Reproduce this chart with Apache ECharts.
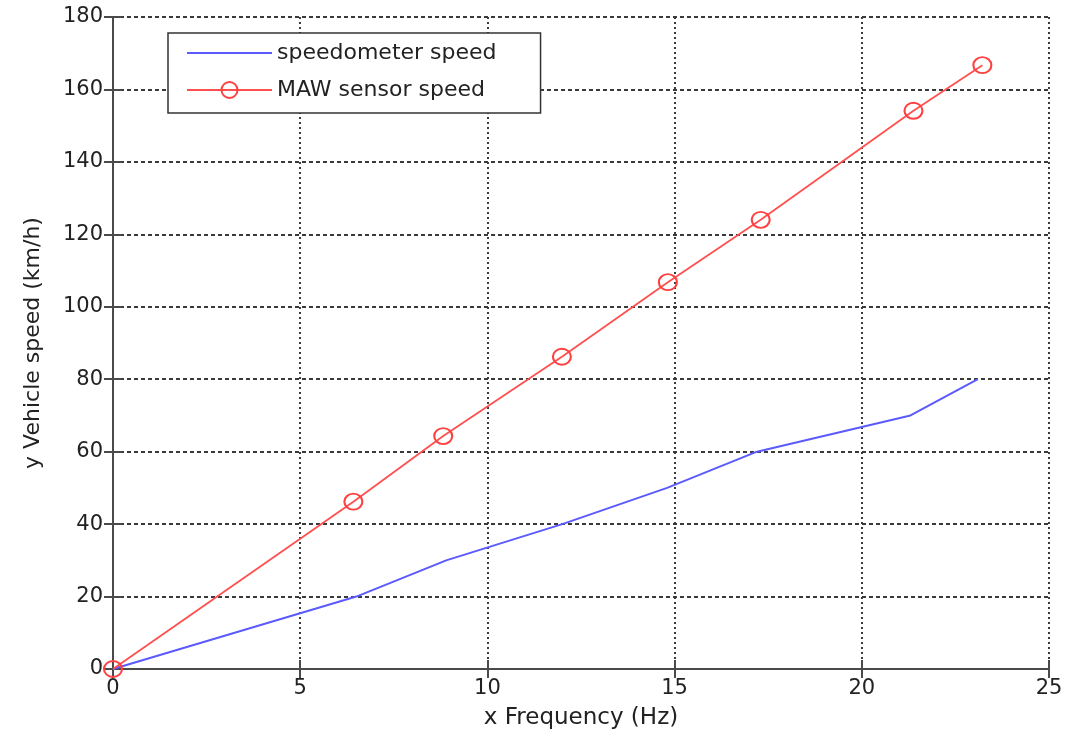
<!DOCTYPE html>
<html>
<head>
<meta charset="utf-8">
<script src="https://cdn.jsdelivr.net/npm/echarts@6/dist/echarts.min.js"></script>
<style>
html,body{margin:0;padding:0;background:#fff;}
#chart{width:1068px;height:736px;}
</style>
</head>
<body>
<div id="chart"></div>
<script>
// Data
const speedoFreq = [0, 6.5, 8.9, 12.0, 14.8, 17.2, 21.3, 23.1];
const speedoSpeed = [0, 20, 30, 40, 50, 60, 70, 80];
const mawFreq = [0, 6.42, 8.82, 11.99, 14.82, 17.30, 21.38, 23.22];
const mawSpeed = [0, 46.2, 64.3, 86.2, 106.8, 124.0, 154.1, 166.7];
const seriesNames = ['speedometer speed', 'MAW sensor speed'];
const xAxisName = 'x Frequency (Hz)';
const yAxisName = 'y Vehicle speed (km/h)';

const FONT = 'DejaVu Sans';
const frameLine = { show: true, lineStyle: { color: '#4a4a4a', width: 2 } };
const inTick = { show: true, inside: true, length: 9, lineStyle: { color: '#4a4a4a', width: 2 } };

const chart = echarts.init(document.getElementById('chart'), null, { renderer: 'canvas' });
chart.setOption({
  animation: false,
  backgroundColor: '#fff',
  grid: { left: 113, right: 19, top: 17, bottom: 67, containLabel: false },
  legend: {
    orient: 'vertical',
    left: 168, top: 33,
    padding: [9, 44, 12, 18],
    itemGap: 15,
    itemWidth: 85,
    itemHeight: 20,
    backgroundColor: '#fff',
    borderColor: '#333',
    borderWidth: 1.5,
    borderRadius: 0,
    textStyle: { fontFamily: FONT, fontSize: 22, color: '#222', lineHeight: 22 },
    data: [
      { name: seriesNames[0], itemStyle: { color: 'rgba(0,0,0,0)', borderColor: 'rgba(0,0,0,0)', borderWidth: 0, opacity: 0 } },
      { name: seriesNames[1] }
    ]
  },
  xAxis: [
    {
      type: 'value', position: 'bottom', min: 0, max: 25, interval: 5,
      name: xAxisName, nameLocation: 'middle', nameGap: 38,
      nameTextStyle: { fontFamily: FONT, fontSize: 23, color: '#222' },
      axisLine: frameLine, axisTick: inTick,
      axisLabel: { fontFamily: FONT, fontSize: 21, color: '#222', margin: 9 },
      splitLine: { show: true, lineStyle: { color: '#3a3a3a', width: 2, type: [2, 3] } }
    },
    {
      type: 'value', position: 'top', min: 0, max: 25, interval: 5,
      axisLine: frameLine, axisTick: inTick,
      axisLabel: { show: false }, splitLine: { show: false }
    }
  ],
  yAxis: [
    {
      type: 'value', position: 'left', min: 0, max: 180, interval: 20,
      name: yAxisName, nameLocation: 'middle', nameGap: 69,
      nameTextStyle: { fontFamily: FONT, fontSize: 22, color: '#222' },
      axisLine: frameLine, axisTick: inTick,
      axisLabel: { fontFamily: FONT, fontSize: 21, color: '#222', margin: 10 },
      splitLine: { show: true, lineStyle: { color: '#3a3a3a', width: 2, type: [4, 3] } }
    },
    {
      type: 'value', position: 'right', min: 0, max: 180, interval: 20,
      axisLine: frameLine, axisTick: inTick,
      axisLabel: { show: false }, splitLine: { show: false }
    }
  ],
  series: [
    {
      name: seriesNames[0], type: 'line', xAxisIndex: 0, yAxisIndex: 0,
      data: speedoFreq.map((x, i) => [x, speedoSpeed[i]]),
      symbol: 'none', showSymbol: false,
      lineStyle: { color: '#5a5aff', width: 2 },
      itemStyle: { color: '#5a5aff' },
      z: 3
    },
    {
      name: seriesNames[1], type: 'line', xAxisIndex: 0, yAxisIndex: 0,
      data: mawFreq.map((x, i) => [x, mawSpeed[i]]),
      symbol: 'circle', symbolSize: [18, 16],
      lineStyle: { color: '#ff5050', width: 1.8 },
      itemStyle: { color: 'rgba(255,255,255,0)', borderColor: '#ff4040', borderWidth: 2 },
      z: 4
    }
  ]
});
</script>
</body>
</html>
